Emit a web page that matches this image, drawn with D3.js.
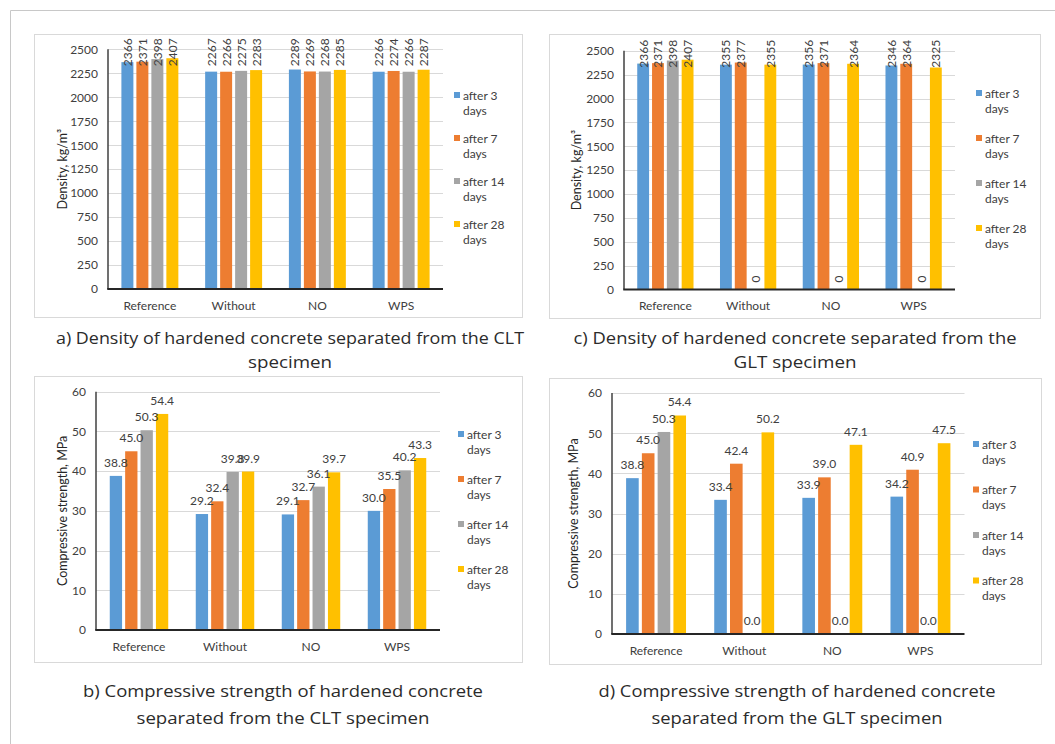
<!DOCTYPE html>
<html>
<head>
<meta charset="utf-8">
<script src="https://cdn.jsdelivr.net/npm/d3@7"></script>
<style>
  html, body { margin: 0; padding: 0; background: #fff; }
  svg { display: block; }
  .chart text { font-family: Lato, "Open Sans", sans-serif; }
  .caption { font-family: "Open Sans", "Noto Sans", sans-serif; fill: #2b2b2b; }
</style>
</head>
<body>
<svg id="fig" width="1055" height="744"></svg>
<script>
// Specimen groups and curing ages
const groups = ["Reference", "Without", "NO", "WPS"];
const ages = ["after 3 days", "after 7 days", "after 14 days", "after 28 days"];
const ageColors = ["#5B9BD5", "#ED7D31", "#A5A5A5", "#FFC000"];

// Density, kg/m3 — CLT specimen (one row per age: 3, 7, 14, 28 days)
const densityCLT = [
  [2366, 2267, 2289, 2266],
  [2371, 2266, 2269, 2274],
  [2398, 2275, 2268, 2266],
  [2407, 2283, 2285, 2287]
];
// Density, kg/m3 — GLT specimen
const densityGLT = [
  [2366, 2355, 2356, 2346],
  [2371, 2377, 2371, 2364],
  [2398, 0, 0, 0],
  [2407, 2355, 2364, 2325]
];
// Compressive strength, MPa — CLT specimen
const strengthCLT = [
  [38.8, 29.2, 29.1, 30.0],
  [45.0, 32.4, 32.7, 35.5],
  [50.3, 39.8, 36.1, 40.2],
  [54.4, 39.9, 39.7, 43.3]
];
// Compressive strength, MPa — GLT specimen
const strengthGLT = [
  [38.8, 33.4, 33.9, 34.2],
  [45.0, 42.4, 39.0, 40.9],
  [50.3, 0.0, 0.0, 0.0],
  [54.4, 50.2, 47.1, 47.5]
];
const densityTicks = [0, 250, 500, 750, 1000, 1250, 1500, 1750, 2000, 2250, 2500];
const strengthTicks = [0, 10, 20, 30, 40, 50, 60];

const svg = d3.select("#fig");

// outer frame
svg.append("path")
  .attr("d", "M10.5,744 V10.5 H1055")
  .attr("fill", "none").attr("stroke", "#c8c8c8").attr("stroke-width", 1);

function drawPanel(cfg) {
  const g = svg.append("g").attr("class", "chart");
  // panel box
  g.append("rect")
    .attr("x", cfg.box[0] + 0.5).attr("y", cfg.box[1] + 0.5)
    .attr("width", cfg.box[2] - cfg.box[0]).attr("height", cfg.box[3] - cfg.box[1])
    .attr("fill", "#fff").attr("stroke", "#d9d9d9").attr("stroke-width", 1);

  const [x0p, x1p, yTop, yBot] = cfg.plot;
  const y = d3.scaleLinear().domain(cfg.domain).range([yBot, yTop]);
  const xg = d3.scaleBand().domain(groups).range([x0p, x1p]).paddingInner(0.32).paddingOuter(0.16);
  const xs = d3.scaleBand().domain(d3.range(ages.length)).range([0, xg.bandwidth()]).paddingInner(0.2);

  // gridlines
  g.append("g").selectAll("line").data(cfg.ticks.filter(t => t > 0)).join("line")
    .attr("x1", x0p).attr("x2", x1p)
    .attr("y1", d => Math.round(y(d)) + 0.5).attr("y2", d => Math.round(y(d)) + 0.5)
    .attr("stroke", "#d9d9d9").attr("stroke-width", 1);

  // y axis ticks
  const yAxis = d3.axisLeft(y).tickValues(cfg.ticks).tickSize(0).tickPadding(10).tickFormat(d3.format("d"));
  const ya = g.append("g").attr("transform", `translate(${x0p},0)`).call(yAxis);
  ya.select(".domain").remove();
  ya.selectAll("text").attr("font-size", 12).attr("fill", "#404040")
    .attr("font-family", "Lato, sans-serif");

  // bars
  const series = g.append("g").selectAll("g").data(cfg.values).join("g")
    .attr("fill", (d, i) => ageColors[i]);
  series.selectAll("rect").data((row, si) => row.map((v, gi) => ({ v, gi, si }))).join("rect")
    .attr("x", d => xg(groups[d.gi]) + xs(d.si))
    .attr("y", d => y(d.v))
    .attr("width", xs.bandwidth())
    .attr("height", d => y(0) - y(d.v));

  // value labels
  const lab = g.append("g");
  cfg.values.forEach((row, si) => {
    row.forEach((v, gi) => {
      const cx = xg(groups[gi]) + xs(si) + xs.bandwidth() / 2;
      const t = lab.append("text")
        .attr("font-size", 12).attr("fill", "#404040")
        .text(cfg.fmt(v));
      if (cfg.vertical) {
        t.attr("text-anchor", "start").attr("dominant-baseline", "central");
        const L = t.node().getComputedTextLength();
        const bottom = Math.max(y(v) - 7, yTop - 11 + L);
        t.attr("transform", `translate(${cx},${bottom}) rotate(-90)`);
      } else {
        t.attr("text-anchor", "middle").attr("x", cx).attr("y", y(v) - 9);
      }
    });
  });

  // axis lines
  g.append("line").attr("x1", x0p).attr("x2", x0p).attr("y1", yTop).attr("y2", yBot)
    .attr("stroke", "#404040").attr("stroke-width", 1.5);
  g.append("line").attr("x1", x0p - 0.75).attr("x2", x1p).attr("y1", yBot).attr("y2", yBot)
    .attr("stroke", "#262626").attr("stroke-width", 2);

  // category labels
  g.append("g").selectAll("text").data(groups).join("text")
    .attr("x", d => xg(d) + xg.bandwidth() / 2)
    .attr("y", yBot + 16)
    .attr("dominant-baseline", "central")
    .attr("text-anchor", "middle")
    .attr("font-size", 12).attr("fill", "#404040")
    .text(d => d);

  // y axis title
  g.append("text")
    .attr("transform", `translate(${cfg.titleX},${(yTop + yBot) / 2}) rotate(-90)`)
    .attr("text-anchor", "middle").attr("dominant-baseline", "central")
    .attr("font-size", 12.5).attr("fill", "#262626")
    .text(cfg.yTitle);

  // legend
  const lg = g.append("g");
  ages.forEach((a, i) => {
    const ry = cfg.legend.y0 + i * cfg.legend.dy;
    const words = a.split(" ");
    lg.append("rect").attr("x", cfg.legend.x).attr("y", ry - 3).attr("width", 6).attr("height", 6)
      .attr("fill", ageColors[i]);
    lg.append("text").attr("x", cfg.legend.x + 9).attr("y", ry)
      .attr("dominant-baseline", "central").attr("font-size", 12).attr("fill", "#404040")
      .text(words[0] + " " + words[1]);
    lg.append("text").attr("x", cfg.legend.x + 9).attr("y", ry + 15)
      .attr("dominant-baseline", "central").attr("font-size", 12).attr("fill", "#404040")
      .text(words[2]);
  });

  // caption
  cfg.caption.lines.forEach((ln, i) => {
    const t = svg.append("text").attr("class", "caption")
      .attr("x", cfg.caption.cx).attr("y", cfg.caption.y[i])
      .attr("text-anchor", "middle").attr("dominant-baseline", "central")
      .attr("font-size", 16.5)
      .text(ln);
    if (cfg.caption.w && cfg.caption.w[i]) {
      t.attr("textLength", cfg.caption.w[i]).attr("lengthAdjust", "spacingAndGlyphs");
    }
  });
}

drawPanel({
  box: [34, 34, 522, 317],
  plot: [108, 443, 49.3, 289],
  domain: [0, 2500], ticks: densityTicks,
  values: densityCLT, vertical: true, fmt: d3.format("d"),
  yTitle: "Density, kg/m³", titleX: 62,
  legend: { x: 454, y0: 95, dy: 43 },
  caption: { cx: 290, y: [337, 361],
    lines: ["a) Density of hardened concrete separated from the CLT", "specimen"], w: [468, 84] }
});

drawPanel({
  box: [549, 34, 1040, 318],
  plot: [624, 955, 50.8, 289.4],
  domain: [0, 2500], ticks: densityTicks,
  values: densityGLT, vertical: true, fmt: d3.format("d"),
  yTitle: "Density, kg/m³", titleX: 576,
  legend: { x: 976, y0: 93, dy: 45 },
  caption: { cx: 795, y: [337, 361],
    lines: ["c) Density of hardened concrete separated from the", "GLT specimen"], w: [443, 123] }
});

drawPanel({
  box: [34, 376, 522, 662],
  plot: [96, 440, 391.7, 630],
  domain: [0, 60], ticks: strengthTicks,
  values: strengthCLT, vertical: false, fmt: d3.format(".1f"),
  yTitle: "Compressive strength, MPa", titleX: 62,
  legend: { x: 458, y0: 434, dy: 45 },
  caption: { cx: 283, y: [690, 717],
    lines: ["b) Compressive strength of hardened concrete", "separated from the CLT specimen"], w: [400, 293] }
});

drawPanel({
  box: [549, 378, 1041, 664],
  plot: [612, 964.5, 393, 634],
  domain: [0, 60], ticks: strengthTicks,
  values: strengthGLT, vertical: false, fmt: d3.format(".1f"),
  yTitle: "Compressive strength, MPa", titleX: 573.5,
  legend: { x: 973, y0: 444, dy: 45.5 },
  caption: { cx: 797, y: [690, 717],
    lines: ["d) Compressive strength of hardened concrete", "separated from the GLT specimen"], w: [397, 291] }
});
</script>
</body>
</html>
